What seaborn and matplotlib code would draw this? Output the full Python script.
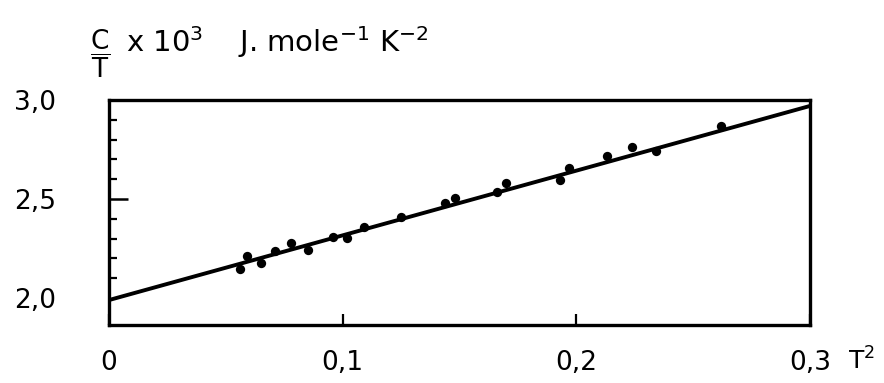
"""Specific heat C/T versus T^2, redrawn from a scanned figure."""
import matplotlib
matplotlib.use('Agg')
import matplotlib.pyplot as plt
import numpy as np
import pandas as pd
import seaborn as sns

t_squared = [0.056, 0.059, 0.065, 0.071, 0.078, 0.085, 0.096, 0.102, 0.109,
             0.125, 0.144, 0.148, 0.166, 0.170, 0.193, 0.197, 0.213, 0.224,
             0.234, 0.262]
c_over_t = [2.145, 2.212, 2.178, 2.237, 2.276, 2.242, 2.310, 2.302, 2.357,
            2.408, 2.481, 2.504, 2.537, 2.579, 2.596, 2.655, 2.717, 2.761,
            2.744, 2.870]

# fitted straight line end points
fit_x = [0.0, 0.3]
fit_y = [1.99, 2.97]

x_ticks = [0.0, 0.1, 0.2, 0.3]
x_labels = ['0', '0,1', '0,2', '0,3']
y_ticks = [2.0, 2.5, 3.0]
y_labels = ['2,0', '2,5', '3,0']

sns.set_style('ticks')
plt.rcParams['font.family'] = ['DejaVu Sans']
plt.rcParams['mathtext.fontset'] = 'dejavusans'
plt.rcParams['text.color'] = 'black'

fig = plt.figure(figsize=(8.84, 3.83), dpi=100)
ax = fig.add_axes([0.1233, 0.1514, 0.793, 0.5875])

df = pd.DataFrame({'T2': t_squared, 'CT': c_over_t})
fit = pd.DataFrame({'T2': fit_x, 'CT': fit_y})

sns.lineplot(data=fit, x='T2', y='CT', ax=ax, color='black', linewidth=2.8)
sns.scatterplot(data=df, x='T2', y='CT', ax=ax, color='black', s=45,
                edgecolor='black', linewidth=0, zorder=3)

ax.set_xlim(0, 0.3)
ax.set_ylim(1.864, 3.0)
ax.set_xlabel('')
ax.set_ylabel('')

ax.set_xticks(x_ticks)
ax.set_xticklabels(x_labels, fontsize=19, color='black')
ax.set_yticks(y_ticks)
ax.set_yticklabels(y_labels, fontsize=19, color='black')
ax.set_yticks(np.arange(2.1, 3.0, 0.1), minor=True)

ax.tick_params(axis='x', which='major', direction='in', length=8, width=1.6,
               pad=18, colors='black')
ax.tick_params(axis='y', which='major', direction='in', length=14, width=1.8,
               pad=38, colors='black')
ax.tick_params(axis='y', which='minor', direction='in', length=6, width=1.6,
               colors='black')
# no visible tick mark at 2,0 in the original
ax.yaxis.get_major_ticks()[0].tick1line.set_visible(False)

for spine in ax.spines.values():
    spine.set_linewidth(2.4)
    spine.set_color('black')

# axis annotations
fig.text(848 / 884, 1 - 370 / 383, r'T$^2$', fontsize=18, ha='left',
         va='baseline')
fig.text(90 / 884, 1 - 54 / 383, r'$\dfrac{\mathrm{C}}{\mathrm{T}}$',
         fontsize=19, ha='left', va='center')
fig.text(126 / 884, 1 - 52 / 383, r'x 10$^3$', fontsize=21, ha='left',
         va='baseline')
fig.text(238 / 884, 1 - 52 / 383, r'J. mole$^{-1}$ K$^{-2}$', fontsize=21,
         ha='left', va='baseline')

fig.savefig('out.png', dpi=100)
plt.close(fig)
